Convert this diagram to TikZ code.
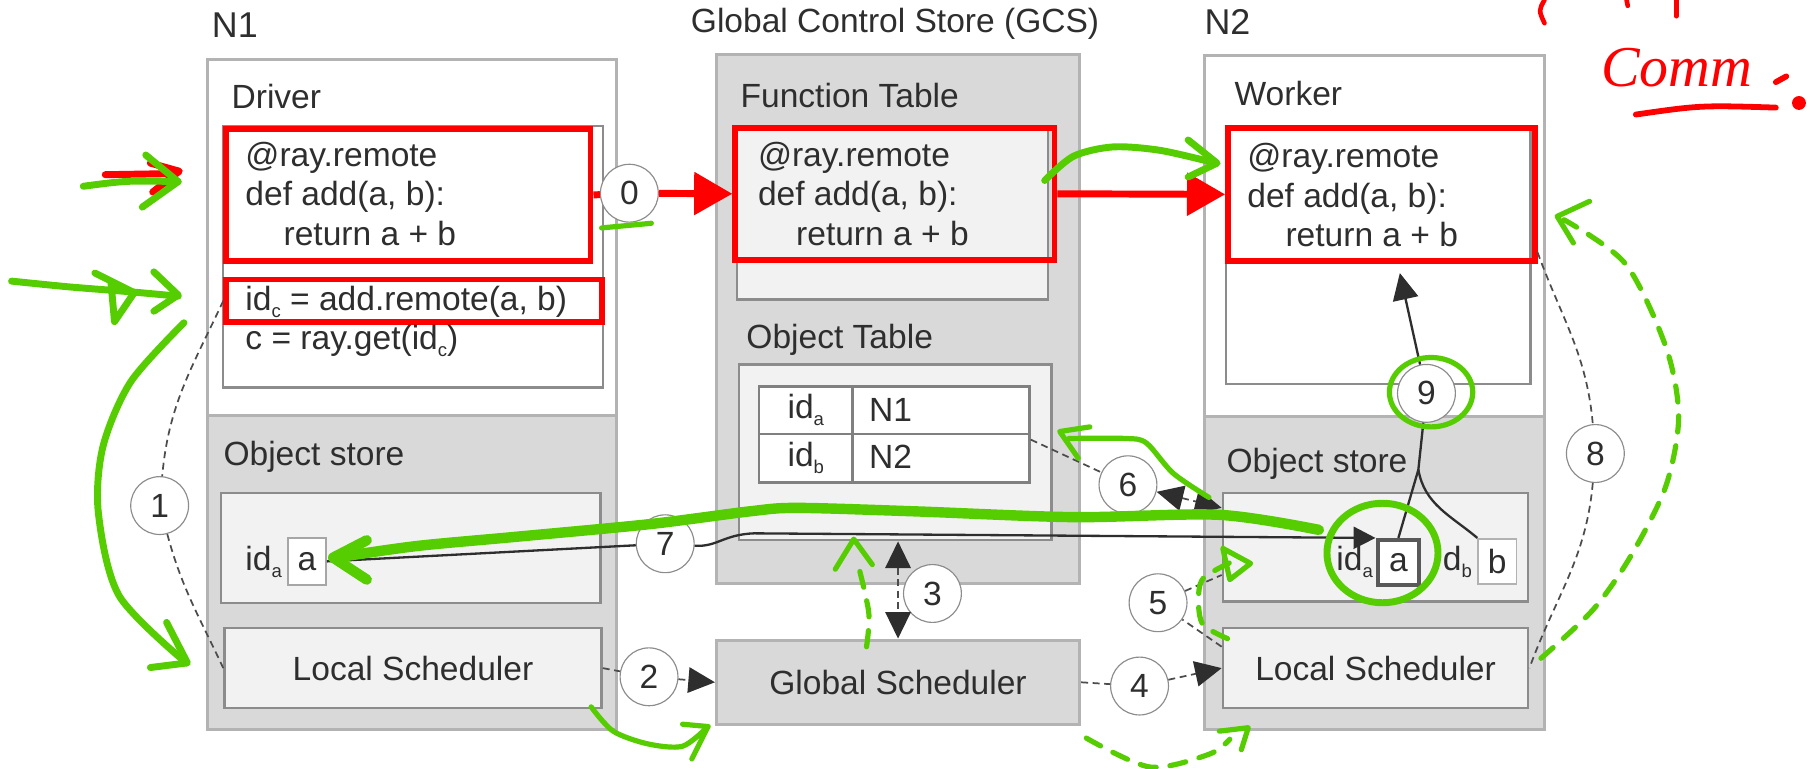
\documentclass[tikz,border=0pt]{standalone}
\usepackage{fontspec}
\setmainfont{Liberation Sans}
\newfontfamily\handfont{Liberation Serif}
\usetikzlibrary{arrows.meta,calc,positioning}

\definecolor{boxgray}{HTML}{D9D9D9}
\definecolor{boxlight}{HTML}{F2F2F2}
\definecolor{rimgray}{HTML}{B3B3B3}
\definecolor{linegray}{HTML}{8C8C8C}
\definecolor{inkgray}{HTML}{2E2E2E}
\definecolor{pengreen}{RGB}{85,205,0}

\tikzset{
  every node/.style={font=\fontsize{29}{34}\selectfont, text=inkgray},
  nodebox/.style={draw=linegray, line width=2pt, anchor=north west, inner sep=0pt},
  rimbox/.style={nodebox, draw=rimgray, line width=2.5pt},
  redbox/.style={nodebox, draw=red, line width=5pt},
  cell/.style={nodebox, fill=white, draw=black!50},
  lbl/.style={anchor=base west, inner sep=0pt},
  num/.style={circle, draw=black!45, line width=1pt, fill=white, minimum size=50pt, inner sep=0pt},
  dline/.style={draw=black!70, line width=1.5pt, dash pattern=on 6pt off 4pt},
  sline/.style={draw=inkgray, line width=2pt},
  tri/.tip={Triangle[length=23pt,width=22pt,color=inkgray]},
  redarr/.style={draw=red, line width=6pt, -{Triangle[length=33pt,width=36pt]}},
  gpen/.style={draw=pengreen, line width=6pt, line cap=round, line join=round},
  gthin/.style={gpen, line width=4.5pt},
  gdash/.style={gthin, dash pattern=on 14pt off 12pt},
  rpen/.style={draw=red, line width=5pt, line cap=round, line join=round},
}

% small index below the line, as in id_a
\newcommand{\lowidx}[1]{\raisebox{-0.22em}{\fontsize{16}{16}\selectfont #1}}

% three lines of the remote function
\newcommand{\pyfunc}[3]{%
  \node[lbl] (#3la) at (#1,#2) {@ray.remote};
  \node[lbl] (#3lb) at (#1,#2+34) {def add(a, b):};
  \node[lbl] (#3lc) at (#1+33,#2+68) {return a + b};}

\begin{document}
\begin{tikzpicture}[x=1pt, y=-1pt]
\useasboundingbox (0,0) rectangle (1568,664);

% titles
\node[lbl, font=\fontsize{31}{36}\selectfont] (tone) at (183,32) {N1};
\node[lbl] (tgcs) at (597,28) {Global Control Store (GCS)};
\node[lbl, font=\fontsize{31}{36}\selectfont] (ttwo) at (1041,30) {N2};

% N1
\node[rimbox, fill=white, minimum width=354pt, minimum height=308pt] (n1top) at (178,50) {};
\node[rimbox, fill=boxgray, minimum width=354pt, minimum height=271pt] (n1bot) at (178,358) {};
\node[lbl] (ldrv) at (200,94) {Driver};
\node[nodebox, fill=white, minimum width=328pt, minimum height=226pt] (drvbox) at (192,108) {};
\node[redbox, minimum width=315pt, minimum height=114pt] (drvcode) at (193,109) {};
\pyfunc{212}{144}{drv}
\node[redbox, minimum width=325pt, minimum height=37pt] (drvcall) at (193,239) {};
\node[lbl] (drvld) at (212,268) {id\lowidx{c} = add.remote(a, b)};
\node[lbl] (drvle) at (212,302) {c = ray.get(id\lowidx{c})};
\node[lbl] (losone) at (193,402) {Object store};
\node[nodebox, fill=boxlight, minimum width=328pt, minimum height=95pt] (osone) at (190,425) {};
\node[lbl] (idaone) at (212,493) {id\lowidx{a}};
\node[nodebox, fill=white, draw=black!35, line width=1.5pt, minimum width=33pt, minimum height=41pt] (aone) at (248,464) {a};
\node[nodebox, fill=boxlight, minimum width=326pt, minimum height=69pt] (lsone) at (193,542) {Local Scheduler};

% GCS
\node[rimbox, fill=boxgray, minimum width=314pt, minimum height=457pt] (gcs) at (618,46) {};
\node[lbl] (lft) at (640,93) {Function Table};
\node[nodebox, fill=boxlight, minimum width=269pt, minimum height=150pt] (ftbox) at (636,108) {};
\node[redbox, minimum width=276pt, minimum height=114pt] (ftcode) at (633,108) {};
\pyfunc{655}{144}{ft}
\node[lbl] (lot) at (645,301) {Object Table};
\node[nodebox, fill=boxlight, minimum width=270pt, minimum height=152pt] (otbox) at (638,314) {};
\node[cell, minimum width=81pt, minimum height=41pt] (ida) at (655,333) {id\lowidx{a}};
\node[cell, minimum width=153pt, minimum height=41pt] (ina) at (736,333) {};
\node[cell, minimum width=81pt, minimum height=42pt] (idb) at (655,374) {id\lowidx{b}};
\node[cell, minimum width=153pt, minimum height=42pt] (inb) at (736,374) {};
\node[lbl] (tna) at (751,364) {N1};
\node[lbl] (tnb) at (751,405) {N2};
\node[rimbox, fill=boxgray, minimum width=314pt, minimum height=73pt] (gsched) at (618,552) {Global Scheduler};

% N2
\node[rimbox, fill=white, minimum width=294pt, minimum height=312pt] (n2top) at (1040,47) {};
\node[rimbox, fill=boxgray, minimum width=294pt, minimum height=270pt] (n2bot) at (1040,359) {};
\node[lbl] (lwk) at (1067,91) {Worker};
\node[nodebox, fill=white, minimum width=263pt, minimum height=223pt] (wkbox) at (1059,108) {};
\node[redbox, minimum width=265pt, minimum height=115pt] (wkcode) at (1059,108) {};
\pyfunc{1078}{145}{wk}
\node[lbl] (lostwo) at (1060,408) {Object store};
\node[nodebox, fill=boxlight, minimum width=264pt, minimum height=94pt] (ostwo) at (1056,425) {};
\node[lbl] (idatwo) at (1155,493) {id\lowidx{a}};
\node[nodebox, fill=white, draw=black!65, line width=3.5pt, minimum width=36pt, minimum height=39pt] (atwo) at (1189,465) {a};
\node[lbl] (dbtwo) at (1247,493) {d\lowidx{b}};
\node[nodebox, fill=white, draw=black!30, line width=1.5pt, minimum width=33pt, minimum height=39pt] (btwo) at (1277,465) {b};
\node[nodebox, fill=boxlight, minimum width=264pt, minimum height=69pt] (lstwo) at (1056,542) {Local Scheduler};

% step numbers
\node[num] (c0) at (544,167) {0};
\node[num] (c1) at (138,437) {1};
\node[num] (c2) at (561,585) {2};
\node[num] (c3) at (806,513) {3};
\node[num] (c4) at (985,593) {4};
\node[num] (c5) at (1001,521) {5};
\node[num] (c6) at (975,419) {6};
\node[num] (c7) at (575,470) {7};
\node[num] (c8) at (1379,392) {8};
\node[num] (c9) at (1233,340) {9};

% connectors
\draw[redarr] (drvcode.east) -- (c0) -- (ftcode.west);
\draw[redarr] (ftcode.east) -- (wkcode.west);
\draw[dline] (drvcall.west) to[out=245,in=85] (c1);
\draw[dline] (c1) to[out=-75,in=115] (lsone.west);
\draw[dline,-tri] (lsone.east) -- (c2) -- (gsched.west);
\draw[dline,tri-tri] (gsched.north |- otbox.south) -- (gsched.north);
\draw[dline,-tri] (gsched.east) -- (c4) -- (lstwo.west);
\draw[dline] ([yshift=-17pt]lstwo.north west) -- (c5) -- ($(ostwo.west)!0.5!(ostwo.south west)$);
\draw[dline,tri-tri] ([yshift=-6pt]inb.north east) -- (c6) -- ([yshift=-14pt]ostwo.north west);
\draw[sline,-{Triangle[length=19pt,width=19pt]}] (aone.east) -- (c7) .. controls (620,473) and (625,462) .. (652,461) -- (atwo.north west);
\draw[dline] ([yshift=10pt]wkcode.south east) to[out=-70,in=95] (c8);
\draw[dline] (c8) to[out=-95,in=70] (lstwo.east);
\coordinate (j9) at (1226,406);
\draw[sline] (atwo.north) -- (j9) -- (c9);
\draw[sline] (btwo.north west) to[out=140,in=-80] (j9);
\draw[sline,-tri] (c9) -- ([xshift=16pt,yshift=-8pt]wkcode.south);

% red pen notes
\draw[rpen, line width=4pt] (1335,0) .. controls (1330,9) .. (1335,20);
\draw[rpen, line width=4pt] (1406,0) -- (1407,5);
\draw[rpen, line width=4pt] (1449,0) -- (1449,14);
\node[lbl, text=red, font=\handfont\itshape\fontsize{50}{56}\selectfont] (comm) at (1384,75) {Comm};
\draw[rpen] (1414,99) .. controls (1470,91) .. (1535,93);
\draw[rpen] (1535,71) -- (1544,66);
\fill[red] (1555,89) circle (6);
\draw[rpen, line width=6pt] (91,151) -- (152,150);
\draw[rpen, line width=6pt] (130,141) -- (155,148) -- (132,166);

% green pen notes
\draw[gpen] (72,161) .. controls (110,156) .. (154,157);
\draw[gpen] (126,134) -- (154,157) -- (123,179);
\draw[gpen] plot[smooth] coordinates {(10,243) (60,248) (110,252) (154,256)};
\draw[gpen] (133,235) -- (154,255) -- (133,269);
\draw[gpen] (82,236) -- (116,253) -- (99,278) -- (96,245);
\draw[gpen] plot[smooth] coordinates {(159,279) (113,330) (89,386) (85,443) (103,515) (161,573)};
\draw[gpen] (144,538) -- (162,573) -- (130,577);
\draw[gthin] (520,197) -- (563,193);
\draw[gpen] plot[smooth] coordinates {(903,156) (928,135) (962,127) (1003,130) (1051,141)};
\draw[gpen] (1027,121) -- (1052,141) -- (1027,153);
\draw[gpen, line width=9pt] plot[smooth] coordinates {(1140,458) (1054,445) (928,447) (791,442) (689,439) (648,442) (562,453) (446,464) (360,472) (290,482)};
\draw[gpen, line width=9pt] (317,467) -- (288,482) -- (317,501);
\draw[gpen] (1195,478) ellipse (48 and 43);
\draw[gthin] plot[smooth] coordinates {(1045,430) (1014,409) (991,383) (973,379) (924,379)};
\draw[gthin] (942,369) -- (916,373) -- (932,396);
\draw[gthin] (1237,339) ellipse (36 and 30);
\draw[gdash] plot[smooth] coordinates {(939,638) (994,663) (1045,652) (1063,639)};
\draw[gthin] (1054,632) -- (1079,629) -- (1073,648);
\draw[gdash] plot[smooth] coordinates {(1061,552) (1040,540) (1036,520) (1040,500) (1066,485)};
\draw[gthin] (1057,474) -- (1081,487) -- (1063,501) -- cycle;
\draw[gdash] plot[smooth] coordinates {(749,559) (751,530) (742,489)};
\draw[gthin] (722,492) -- (738,466) -- (754,488);
\draw[gthin] plot[smooth] coordinates {(511,611) (530,632) (560,643) (590,645) (612,628)};
\draw[gthin] (590,626) -- (612,628) -- (598,656);
\draw[gdash] plot[smooth] coordinates {(1332,569) (1377,527) (1410,480) (1440,420) (1451,360) (1440,300) (1405,228) (1352,190)};
\draw[gthin] (1374,174) -- (1346,187) -- (1360,210);
\end{tikzpicture}
\end{document}
